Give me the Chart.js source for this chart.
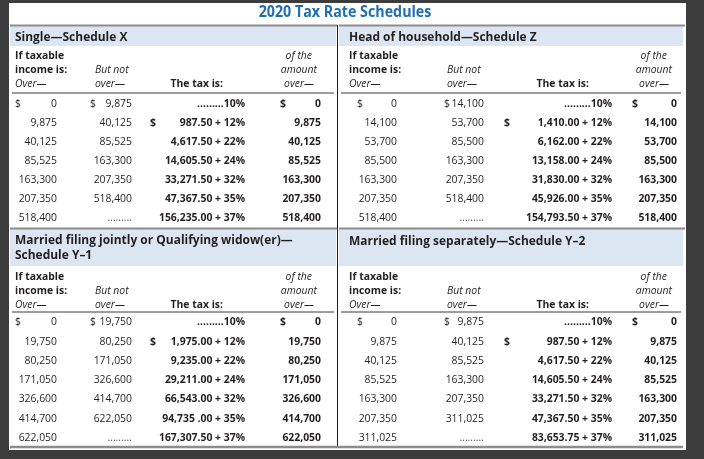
<!DOCTYPE html>
<html lang="en">
<head>
  <meta charset="UTF-8">
  <title>2020 Tax Rate Schedules</title>
  <style>
    body { margin: 0; background: #3c3c3c; }
    #wrap { width: 704px; height: 459px; }
  </style>
</head>
<body>
<div id="wrap"><canvas id="taxChart"></canvas></div>

<script src="https://cdn.jsdelivr.net/npm/chart.js"></script>
<script>
  // table data
  const title = '2020 Tax Rate Schedules';
  const scheduleNames = [
    ['Single\u2014Schedule X'],
    ['Head of household\u2014Schedule Z'],
    ['Married filing jointly or Qualifying widow(er)\u2014', 'Schedule Y\u20131'],
    ['Married filing separately\u2014Schedule Y\u20132']
  ];
  const rates = [10, 12, 22, 24, 32, 35, 37];
  const singleOver = [0, 9875, 40125, 85525, 163300, 207350, 518400];
  const singleTax = ['', '987.50', '4,617.50', '14,605.50', '33,271.50', '47,367.50', '156,235.00'];
  const headOver = [0, 14100, 53700, 85500, 163300, 207350, 518400];
  const headTax = ['', '1,410.00', '6,162.00', '13,158.00', '31,830.00', '45,926.00', '154,793.50'];
  const jointOver = [0, 19750, 80250, 171050, 326600, 414700, 622050];
  const jointTax = ['', '1,975.00', '9,235.00', '29,211.00', '66,543.00', '94,735 .00', '167,307.50'];
  const sepOver = [0, 9875, 40125, 85525, 163300, 207350, 311025];
  const sepTax = ['', '987.50', '4,617.50', '14,605.50', '33,271.50', '47,367.50', '83,653.75'];

  const schedules = [
    { over: singleOver, tax: singleTax },
    { over: headOver, tax: headTax },
    { over: jointOver, tax: jointTax },
    { over: sepOver, tax: sepTax }
  ];

  // layout (page units = pixels)
  const panels = [
    { x0: 10, x1: 336, hx: 15, c1$: 15, c1: 57, c2$: 90, c2: 132, c3$: 150, c3: 245, c4$: 280, c4: 321, but: 95, taxHead: 223, ofRight: 316 },
    { x0: 339, x1: 683, hx: 349, c1$: 357, c1: 397, c2$: 444, c2: 484, c3$: 504, c3: 612, c4$: 632, c4: 677, but: 447, taxHead: 589, ofRight: 671 }
  ];
  const sections = [
    { bandTop: 26, bandBottom: 46, nameY: 37, headY: 56, ruleY: 93, rowY: 104, step: 19 },
    { bandTop: 229, bandBottom: 266, nameY: 241, headY: 277, ruleY: 312, rowY: 322, step: 19.3 }
  ];
  const FONT = '"Open Sans", sans-serif';
  const SQUEEZE = 0.92;

  const fmt = v => v.toLocaleString('en-US');

  const tablePlugin = {
    id: 'taxTable',
    afterDraw(chart) {
      const ctx = chart.ctx;
      const X = v => chart.scales.x.getPixelForValue(v);
      const Y = v => chart.scales.y.getPixelForValue(v);

      function text(str, x, y, align, font, color) {
        ctx.save();
        ctx.font = font;
        ctx.fillStyle = color || '#231f20';
        ctx.textBaseline = 'middle';
        ctx.textAlign = align;
        ctx.translate(X(x), Y(y));
        ctx.scale(SQUEEZE, 1);
        ctx.fillText(str, 0, 0);
        ctx.restore();
      }
      function hline(x0, x1, y, w, color) {
        ctx.save();
        ctx.strokeStyle = color;
        ctx.lineWidth = w;
        ctx.beginPath();
        ctx.moveTo(X(x0), Y(y));
        ctx.lineTo(X(x1), Y(y));
        ctx.stroke();
        ctx.restore();
      }

      // paper
      ctx.save();
      ctx.fillStyle = '#ffffff';
      ctx.fillRect(X(9), Y(3), X(686) - X(9), Y(450) - Y(3));
      ctx.restore();

      text(title, 345, 13, 'center', 'bold 15.5px ' + FONT, '#1f6db3');

      const reg = '11.3px ' + FONT;
      const bold = 'bold 11.3px ' + FONT;
      const ital = 'italic 11.3px ' + FONT;

      sections.forEach((s, si) => {
        panels.forEach((p, pi) => {
          const idx = si * 2 + pi;
          const sch = schedules[idx];
          // band
          ctx.save();
          ctx.fillStyle = '#dce6f2';
          ctx.fillRect(X(p.x0), Y(s.bandTop), X(p.x1) - X(p.x0), Y(s.bandBottom) - Y(s.bandTop));
          ctx.restore();
          hline(p.x0, p.x1 + 2, s.bandTop - 0.5, 2, '#8c8c8c');
          const names = scheduleNames[idx];
          names.forEach((n, k) => {
            const ny = names.length > 1 ? s.nameY + k * 15 - 1 : s.nameY;
            text(n, p.hx, ny, 'left', 'bold 13px ' + FONT, '#231f20');
          });

          // column headers
          const h = s.headY;
          text('If taxable', p.hx, h, 'left', bold);
          text('income is:', p.hx, h + 14, 'left', bold);
          text('Over\u2014', p.hx, h + 28, 'left', ital);
          text('But not', p.but, h + 14, 'left', ital);
          text('over\u2014', p.but, h + 28, 'left', ital);
          text('The tax is:', p.taxHead, h + 28, 'right', bold);
          text('of the', p.ofRight - 4, h, 'right', ital);
          text('amount', p.ofRight + 1, h + 14, 'right', ital);
          text('over\u2014', p.ofRight - 2, h + 28, 'right', ital);
          hline(p.x0 + 2, p.x1 - 2, s.ruleY, 1, '#3a3a3a');

          // rows
          sch.over.forEach((over, i) => {
            const y = s.rowY + i * s.step;
            const next = sch.over[i + 1];
            if (i === 0) text('$', p.c1$, y, 'left', reg);
            text(fmt(over), p.c1, y, 'right', reg);
            if (i === 0) text('$', p.c2$, y, 'left', reg);
            if (next !== undefined) text(fmt(next), p.c2, y, 'right', reg);
            else text('.........', p.c2, y, 'right', reg, '#555');
            if (i === 0) {
              text('.........' + rates[i] + '%', p.c3, y, 'right', bold);
            } else {
              if (i === 1) text('$', p.c3$, y, 'left', bold);
              text(sch.tax[i] + ' + ' + rates[i] + '%', p.c3, y, 'right', bold);
            }
            if (i === 0) text('$', p.c4$, y, 'left', bold);
            text(fmt(over), p.c4, y, 'right', bold);
          });
        });
      });

      // divider and bottom rule
      ctx.save();
      ctx.strokeStyle = '#1a1a1a';
      ctx.lineWidth = 1;
      ctx.beginPath();
      ctx.moveTo(X(337.5), Y(25));
      ctx.lineTo(X(337.5), Y(446));
      ctx.stroke();
      ctx.restore();
      hline(10, 683, 447, 2.5, '#8c8c8c');
    }
  };

  new Chart(document.getElementById('taxChart'), {
    type: 'scatter',
    data: { datasets: [{ data: [], pointRadius: 0 }] },
    options: {
      responsive: true,
      maintainAspectRatio: false,
      animation: false,
      events: [],
      layout: { padding: 0 },
      plugins: { legend: { display: false }, tooltip: { enabled: false } },
      scales: {
        x: { type: 'linear', min: 0, max: 704, display: false },
        y: { type: 'linear', min: 0, max: 459, reverse: true, display: false }
      }
    },
    plugins: [tablePlugin]
  });
</script>
</body>
</html>
